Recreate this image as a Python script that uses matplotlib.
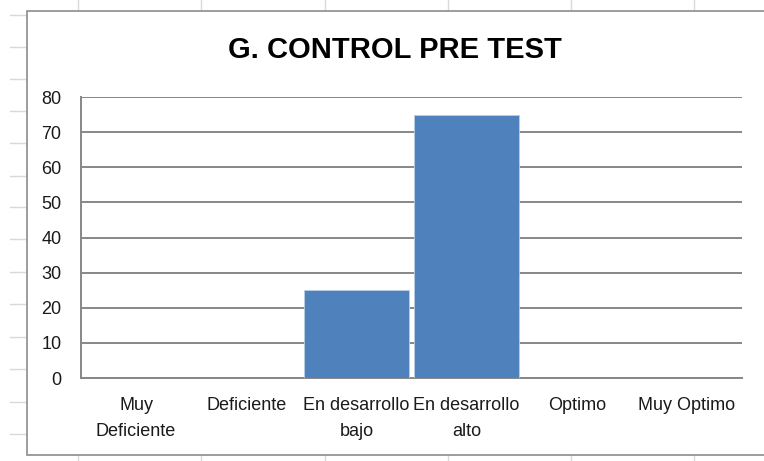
import matplotlib.pyplot as plt
from matplotlib.lines import Line2D
from matplotlib.patches import Rectangle
import numpy as np

plt.rcParams['font.family'] = ['Liberation Sans', 'DejaVu Sans']

title = "G. CONTROL PRE TEST"
categories = ["Muy\nDeficiente", "Deficiente", "En desarrollo\nbajo",
              "En desarrollo\nalto", "Optimo", "Muy Optimo"]
values = [0, 0, 25, 75, 0, 0]
yticks = [0, 10, 20, 30, 40, 50, 60, 70, 80]

W, H = 764, 461
fig = plt.figure(figsize=(W / 100, H / 100), dpi=100)
fig.patch.set_facecolor('white')


def px(x, y):
    # pixel coords (top-left origin) -> figure fraction
    return x / W, 1 - y / H


# spreadsheet cell lines behind the chart
cell_col = '#d9d9d9'
for cx in [78, 201, 325, 448, 571, 694]:
    fig.add_artist(Line2D([cx / W, cx / W], [0, 1], color=cell_col, lw=1, zorder=0))
for cy in [15, 47, 79, 111, 143, 176, 207, 239, 272, 304, 337, 369, 402, 434]:
    fig.add_artist(Line2D([10 / W, 27 / W], [1 - cy / H, 1 - cy / H], color=cell_col, lw=1, zorder=0))

# chart frame
x0, y0 = px(27, 455)
x1, y1 = px(775, 11)
fig.add_artist(Rectangle((x0, y0), x1 - x0, y1 - y0, facecolor='white',
                         edgecolor='#8c8c8c', lw=1.2, zorder=1, transform=fig.transFigure))

l, t = px(81, 97)
r, b = px(742, 378)
ax = fig.add_axes([l, b, r - l, t - b], zorder=2)
ax.set_facecolor('none')

x = np.arange(len(categories))
ax.bar(x, values, width=0.95, color='#4f81bd', edgecolor='#b9cde5', lw=0.6, zorder=3)

ax.set_xlim(-0.5, len(categories) - 0.5)
ax.set_ylim(0, 80)
ax.set_yticks(yticks)
ax.yaxis.grid(True, color='#878787', lw=1.4, zorder=1)
ax.set_axisbelow(True)
ax.set_xticks(x)
ax.set_xticklabels(categories, linespacing=1.65)
ax.tick_params(axis='y', length=0, pad=14, labelsize=13, labelcolor='#1a1a1a')
ax.tick_params(axis='x', length=0, pad=14, labelsize=13, labelcolor='#1a1a1a')

for s in ['top', 'right']:
    ax.spines[s].set_visible(False)
for s in ['left', 'bottom']:
    ax.spines[s].set_color('#878787')
    ax.spines[s].set_linewidth(1.4)

tx, ty = px(395, 50)
fig.text(tx, ty, title, ha='center', va='center', fontsize=21, fontweight='bold', color='black')

fig.savefig('out.png', dpi=100)
